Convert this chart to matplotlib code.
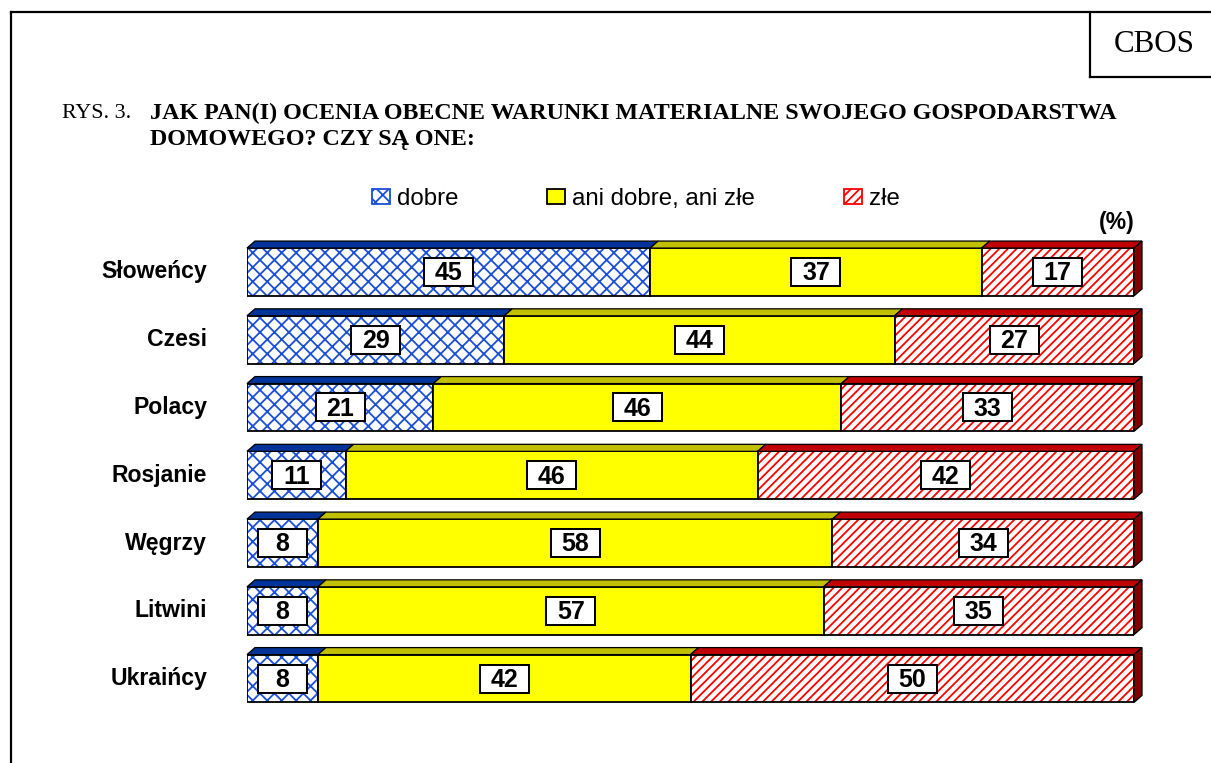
import numpy as np
import matplotlib
matplotlib.use('Agg')
import matplotlib.pyplot as plt
from matplotlib.patches import Polygon, Patch, Rectangle
from matplotlib.lines import Line2D

# dane
kraje = ['Słoweńcy', 'Czesi', 'Polacy', 'Rosjanie', 'Węgrzy', 'Litwini', 'Ukraińcy']
dobre = [45, 29, 21, 11, 8, 8, 8]
ani = [37, 44, 46, 46, 58, 57, 42]
zle = [17, 27, 33, 42, 34, 35, 50]
serie = ['dobre', 'ani dobre, ani złe', 'złe']

W, H, DPI = 1211, 763, 130
def pt(px):
    return px * 72.0 / DPI

plt.rcParams['hatch.linewidth'] = 1.0
fig = plt.figure(figsize=(W / DPI, H / DPI), dpi=DPI)
fig.patch.set_facecolor('white')

def fx(x):
    return x / W
def fy(y):
    return 1 - y / H

# ramka i CBOS
lw = pt(2.2)
fig.add_artist(Line2D([fx(11), fx(11)], [fy(12), fy(763)], color='black', lw=lw))
fig.add_artist(Line2D([fx(11), fx(1211)], [fy(12), fy(12)], color='black', lw=lw))
fig.add_artist(Line2D([fx(1090), fx(1090)], [fy(12), fy(77)], color='black', lw=lw))
fig.add_artist(Line2D([fx(1090), fx(1211)], [fy(77), fy(77)], color='black', lw=lw))
fig.text(fx(1154), fy(45), 'CBOS', family='Liberation Serif', fontsize=pt(31),
         ha='center', va='center')

# tytul
fig.text(fx(62), fy(113), 'RYS. 3.', family='Liberation Serif', fontsize=pt(22),
         ha='left', va='center')
fig.text(fx(150), fy(113), 'JAK PAN(I) OCENIA OBECNE WARUNKI MATERIALNE SWOJEGO GOSPODARSTWA',
         family='Liberation Serif', weight='bold', fontsize=pt(24), ha='left', va='center')
fig.text(fx(150), fy(139), 'DOMOWEGO? CZY SĄ ONE:',
         family='Liberation Serif', weight='bold', fontsize=pt(24), ha='left', va='center')

ax = fig.add_axes([fx(247), fy(712.4), 887 / W, (712.4 - 238.1) / H])
ax.set_xlim(0, 100)
ax.set_ylim(6.5, -0.5)
ax.axis('off')

dane = np.array([dobre, ani, zle], dtype=float)
udzial = dane / dane.sum(axis=0) * 100

styl = [
    dict(face='white', hatch='xxx', hc='#1A4FD6', top='#003399'),
    dict(face='#FFFF00', hatch=None, hc=None, top='#C0C000'),
    dict(face='white', hatch='/////', hc='#FF0000', top='#C00000'),
]
bok = '#800000'
h = 0.706
dx = 8 / 887 * 100
dy = 7 / 67.75
bw = 49 / 887 * 100
bh = 28 / 67.75

y = np.arange(len(kraje))
lewo = np.zeros(len(kraje))
for s, st in enumerate(styl):
    w = udzial[s]
    if st['hatch']:
        ax.barh(y, w, left=lewo, height=h, color=st['face'], edgecolor=st['hc'],
                hatch=st['hatch'], lw=0)
        ax.barh(y, w, left=lewo, height=h, fill=False, edgecolor='black', lw=1)
    else:
        ax.barh(y, w, left=lewo, height=h, color=st['face'], edgecolor='black', lw=1)
    for i in range(len(kraje)):
        x0, x1 = lewo[i], lewo[i] + w[i]
        yt = y[i] - h / 2
        ax.add_patch(Polygon([(x0, yt), (x1, yt), (x1 + dx, yt - dy), (x0 + dx, yt - dy)],
                             closed=True, facecolor=st['top'], edgecolor='black',
                             lw=0.7, clip_on=False))
        xc = (x0 + x1) / 2
        ax.add_patch(Rectangle((xc - bw / 2, y[i] - bh / 2), bw, bh, facecolor='white',
                               edgecolor='black', lw=1.1, zorder=3))
        ax.text(xc, y[i] + 0.02, '%d' % dane[s][i], ha='center', va='center',
                family='Liberation Sans', weight='bold', fontsize=pt(25), zorder=4)
    lewo = lewo + w

# bok prawy
for i in range(len(kraje)):
    yt, yb = y[i] - h / 2, y[i] + h / 2
    ax.add_patch(Polygon([(100, yt), (100 + dx, yt - dy), (100 + dx, yb - dy), (100, yb)],
                         closed=True, facecolor=bok, edgecolor='black', lw=0.7, clip_on=False))

for i, k in enumerate(kraje):
    ax.text(-4.5, y[i], k, ha='right', va='center', family='Liberation Sans',
            weight='bold', fontsize=pt(23))

fig.text(fx(1117), fy(222), '(%)', family='Liberation Sans', weight='bold',
         fontsize=pt(23), ha='center', va='center')

uchwyty = [
    Patch(facecolor='white', edgecolor=styl[0]['hc'], hatch='xxx', lw=1),
    Patch(facecolor='#FFFF00', edgecolor='black', lw=1),
    Patch(facecolor='white', edgecolor=styl[2]['hc'], hatch='/////', lw=1),
]
fig.legend(uchwyty, serie, loc='center', bbox_to_anchor=(fx(636), fy(199)), ncol=3,
           frameon=False, handlelength=0.75, handleheight=0.6, handletextpad=0.3,
           columnspacing=3.7, borderpad=0, prop=dict(family='Liberation Sans', size=pt(24)))

fig.savefig('out.png', dpi=DPI)
